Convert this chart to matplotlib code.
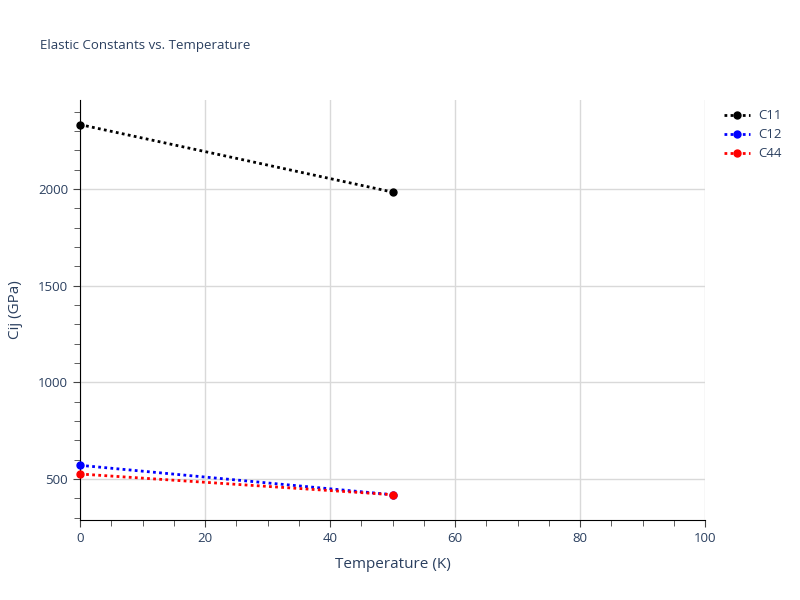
import matplotlib.pyplot as plt
from matplotlib.ticker import MultipleLocator

# Data
temperature = [0, 50]
c11 = [2333, 1984]
c12 = [571, 419]
c44 = [526, 419]

series = [("C11", c11, "black"), ("C12", c12, "blue"), ("C44", c44, "red")]

text_color = "#2a3f5f"

plt.rcParams['font.family'] = ['Open Sans', 'DejaVu Sans']

fig = plt.figure(figsize=(8, 6), dpi=100)
ax = fig.add_axes([0.1, 0.1333, 0.78125, 0.7])

for name, vals, col in series:
    ax.plot(temperature, vals, color=col, linestyle=(0, (1, 1.2)), linewidth=2,
            marker="o", markersize=5, label=name, clip_on=False, zorder=3)

ax.set_xlim(0, 100)
ax.set_ylim(288, 2460)
ax.xaxis.set_major_locator(MultipleLocator(20))
ax.xaxis.set_minor_locator(MultipleLocator(5))
ax.yaxis.set_major_locator(MultipleLocator(500))
ax.yaxis.set_minor_locator(MultipleLocator(100))

ax.grid(True, which="major", color="#d9d9d9", linewidth=1)
ax.set_axisbelow(True)
for s in ["top", "right"]:
    ax.spines[s].set_visible(False)
ax.spines["left"].set_color("black")
ax.spines["bottom"].set_color("black")

ax.tick_params(which="both", direction="out", color="#444444", labelsize=9.5,
               labelcolor=text_color)
ax.tick_params(which="major", length=5)
ax.tick_params(which="minor", length=4)

ax.set_xlabel("Temperature (K)", fontsize=11, color=text_color, labelpad=9)
ax.set_ylabel("Cij (GPa)", fontsize=11, color=text_color, labelpad=11)

fig.text(0.05, 0.925, "Elastic Constants vs. Temperature", fontsize=9.5,
         color=text_color, va="center")

leg = ax.legend(loc="upper left", bbox_to_anchor=(1.015, 1.0), frameon=False,
                fontsize=9.5, handlelength=2.0, handletextpad=0.6,
                labelspacing=0.45, borderaxespad=0.3)
for t in leg.get_texts():
    t.set_color(text_color)

fig.savefig("out.png", dpi=100)
